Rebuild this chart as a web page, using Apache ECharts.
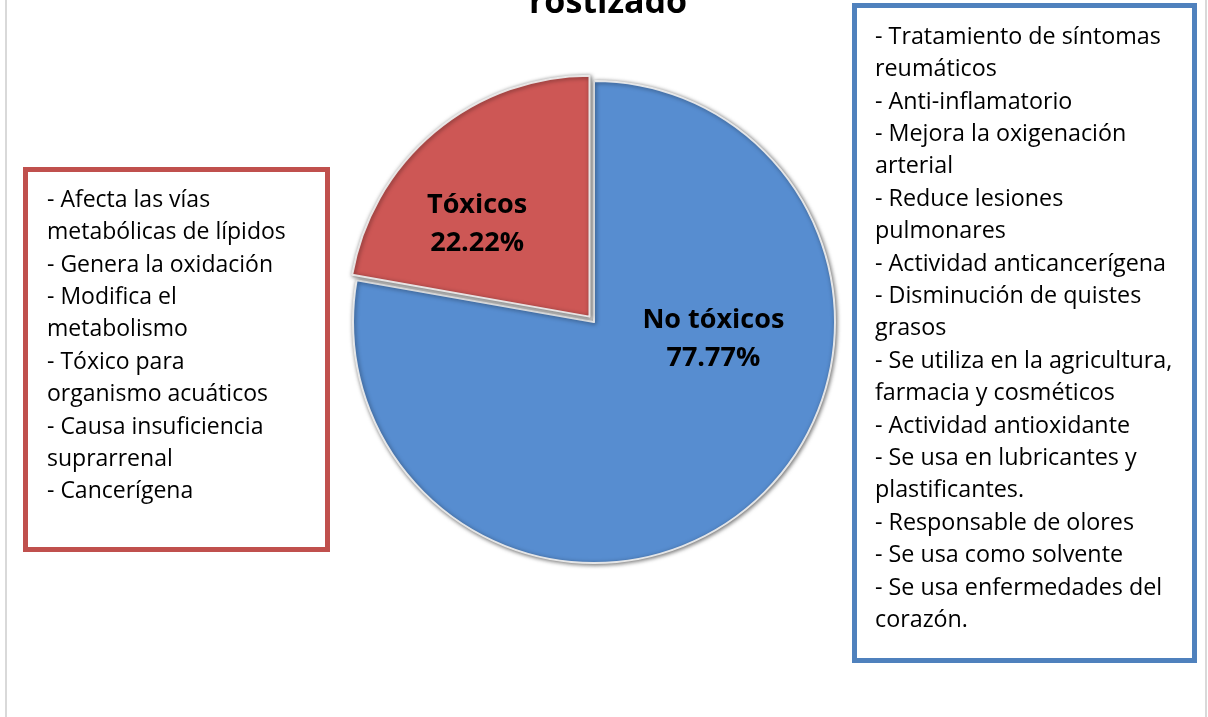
<!DOCTYPE html>
<html>
<head>
<meta charset="utf-8">
<script src="https://cdn.jsdelivr.net/npm/echarts@6/dist/echarts.min.js"></script>
<style>
  html, body { margin: 0; padding: 0; background: #ffffff; }
  #chart { width: 1208px; height: 717px; }
</style>
</head>
<body>
<div id="chart"></div>
<script>
// Pie categories and their shares (%)
const categories = ['No tóxicos', 'Tóxicos'];
const shares = [77.77, 22.22];
const sliceColors = ['#578dd0', '#cd5755'];

// Title line shown at the top edge
const titleText = 'rostizado';

// Effects listed for the toxic compounds (left box)
const toxicEffects = [
  '- Afecta las vías',
  'metabólicas de lípidos',
  '- Genera la oxidación',
  '- Modifica el',
  'metabolismo',
  '- Tóxico para',
  'organismo acuáticos',
  '- Causa insuficiencia',
  'suprarrenal',
  '- Cancerígena'
];

// Uses / effects listed for the non-toxic compounds (right box)
const nonToxicEffects = [
  '- Tratamiento de síntomas',
  'reumáticos',
  '- Anti-inflamatorio',
  '- Mejora la oxigenación',
  'arterial',
  '- Reduce lesiones',
  'pulmonares',
  '- Actividad anticancerígena',
  '- Disminución de quistes',
  'grasos',
  '- Se utiliza en la agricultura,',
  'farmacia y cosméticos',
  '- Actividad antioxidante',
  '- Se usa en lubricantes y',
  'plastificantes.',
  '- Responsable de olores',
  '- Se usa como solvente',
  '- Se usa enfermedades del',
  'corazón.'
];

const FONT = '"Open Sans", "Noto Sans", sans-serif';

const chart = echarts.init(document.getElementById('chart'), null, { renderer: 'canvas' });

// nudges for the in-slice labels
const labelOffsets = [[40, -77], [-33, 2]];

const pieData = categories.map((name, i) => ({
  name: name,
  value: shares[i],
  selected: name === 'Tóxicos',
  itemStyle: { color: sliceColors[i] },
  label: { offset: labelOffsets[i] },
  select: { label: { offset: labelOffsets[i] } }
}));

const option = {
  backgroundColor: '#ffffff',
  animation: false,
  graphic: [
    // light frame of the chart area
    { type: 'line', shape: { x1: 6, y1: 0, x2: 6, y2: 717 }, style: { stroke: '#d9d9d9', lineWidth: 2 } },
    { type: 'line', shape: { x1: 1206, y1: 0, x2: 1206, y2: 717 }, style: { stroke: '#d9d9d9', lineWidth: 2 } },
    // title
    {
      type: 'text', x: 608, y: 3,
      style: {
        text: titleText, fill: '#000', font: 'bold 34px ' + FONT,
        textAlign: 'center', textVerticalAlign: 'middle'
      }
    },
    // left box
    {
      type: 'rect', shape: { x: 25.5, y: 169.5, width: 302, height: 380 },
      style: { fill: '#ffffff', stroke: '#c0504d', lineWidth: 5 }
    },
    {
      type: 'text', x: 47, y: 184,
      style: {
        text: toxicEffects.join('\n'), fill: '#000', font: '23px ' + FONT,
        lineHeight: 32.4, textAlign: 'left', textVerticalAlign: 'top'
      }
    },
    // right box
    {
      type: 'rect', shape: { x: 854.5, y: 5.5, width: 340, height: 655 },
      style: { fill: '#ffffff', stroke: '#4f81bd', lineWidth: 5 }
    },
    {
      type: 'text', x: 875, y: 21,
      style: {
        text: nonToxicEffects.join('\n'), fill: '#000', font: '23.3px ' + FONT,
        lineHeight: 32.4, textAlign: 'left', textVerticalAlign: 'top'
      }
    }
  ],
  series: [{
    type: 'pie',
    center: [594, 322],
    radius: 241,
    startAngle: 90,
    clockwise: true,
    selectedMode: 'single',
    selectedOffset: 7,
    silent: true,
    itemStyle: {
      borderColor: 'rgba(235,235,235,0.95)',
      borderWidth: 2,
      shadowBlur: 4,
      shadowOffsetX: 1,
      shadowOffsetY: 1,
      shadowColor: 'rgba(0,0,0,0.55)'
    },
    label: {
      show: true,
      position: 'inside',
      formatter: '{b}\n{c}%',
      color: '#000',
      fontFamily: FONT,
      fontWeight: 'bold',
      fontSize: 27,
      lineHeight: 38
    },
    labelLine: { show: false },
    emphasis: { disabled: true },
    data: pieData
  }]
};

chart.setOption(option);
</script>
</body>
</html>
